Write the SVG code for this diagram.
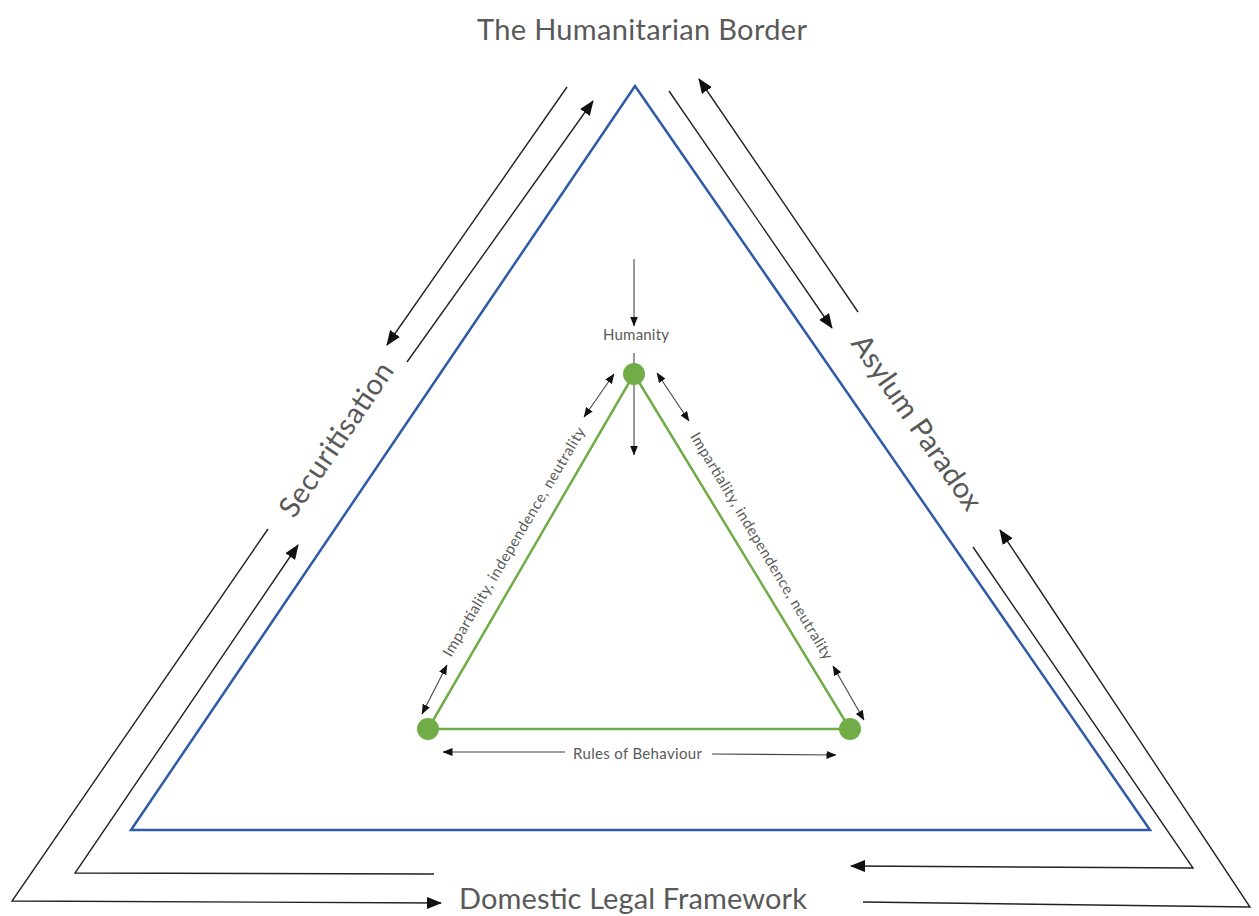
<svg xmlns="http://www.w3.org/2000/svg" width="1259" height="916" viewBox="0 0 1259 916">
<style>
  .lbl { font-family: Lato, "Open Sans", "Liberation Sans", sans-serif; fill: #595959; }
  .big { font-size: 29px; }
  .small { font-size: 15px; }
  .outer { fill: none; stroke: #2E5AA8; stroke-width: 2.5; stroke-linejoin: miter; }
  .inner { fill: none; stroke: #70AD47; stroke-width: 2.5; }
  .node { fill: #70AD47; }
  .arr { fill: none; stroke: #222; stroke-width: 1.4; marker-end: url(#ah); }
  .sarr { fill: none; stroke: #444; stroke-width: 1.1; marker-end: url(#ahs); }
  .darr { fill: none; stroke: #444; stroke-width: 1.1; marker-start: url(#ahs); marker-end: url(#ahs); }
  .ln { fill: none; stroke: #444; stroke-width: 1.1; }
</style>
<defs>
  <marker id="ah" markerUnits="userSpaceOnUse" markerWidth="15" markerHeight="12" refX="14" refY="6" orient="auto-start-reverse">
    <path d="M0,0 L15,6 L0,12 Z" fill="#111"/>
  </marker>
  <marker id="ahs" markerUnits="userSpaceOnUse" markerWidth="10" markerHeight="8" refX="9.5" refY="4" orient="auto-start-reverse">
    <path d="M0,0 L10,4 L0,8 Z" fill="#111"/>
  </marker>
</defs>
<rect width="1259" height="916" fill="#ffffff"/>

<g id="outer-triangle">
  <polygon class="outer" points="635,86 1150,830 131,830"/>
</g>

<g id="inner-triangle">
  <polygon class="inner" points="634,374 850,729 428,729"/>
</g>

<g id="connectors">
  <line class="arr" x1="567" y1="87" x2="387" y2="345"/>
  <line class="arr" x1="407" y1="362" x2="593" y2="101"/>
  <line class="arr" x1="669" y1="91" x2="832" y2="328"/>
  <line class="arr" x1="858" y1="312" x2="699" y2="79"/>
  <polyline class="arr" points="268,529 12,901 441,903"/>
  <polyline class="arr" points="434,874 75,873 298,545"/>
  <polyline class="arr" points="863,902 1250,907 1000,530"/>
  <polyline class="arr" points="973,547 1193,868 851,866"/>

  <line class="sarr" x1="634" y1="259" x2="634" y2="326"/>
  <line class="ln" x1="634" y1="353" x2="634" y2="370"/>
  <line class="sarr" x1="634" y1="374" x2="634" y2="455"/>
  <line class="darr" x1="584" y1="417" x2="614" y2="374"/>
  <line class="darr" x1="657" y1="373" x2="689" y2="421"/>
  <line class="darr" x1="422" y1="714" x2="447" y2="665"/>
  <line class="darr" x1="833" y1="666" x2="864" y2="720"/>
  <line class="sarr" x1="565" y1="752" x2="443" y2="752"/>
  <line class="sarr" x1="712" y1="754" x2="836" y2="755"/>
</g>

<g id="node-humanity">
  <circle class="node" cx="634" cy="374" r="11"/>
  <text class="lbl small" x="636" y="340" text-anchor="middle" textLength="66">Humanity</text>
</g>
<g id="node-left">
  <circle class="node" cx="428" cy="729" r="11"/>
</g>
<g id="node-right">
  <circle class="node" cx="850" cy="729" r="11"/>
</g>

<g id="label-title">
  <text class="lbl big" x="642" y="40" text-anchor="middle" textLength="330">The Humanitarian Border</text>
</g>
<g id="label-domestic">
  <text class="lbl big" x="633" y="909" text-anchor="middle" textLength="348">Domestic Legal Framework</text>
</g>
<g id="label-securitisation">
  <text class="lbl big" transform="translate(337,440) rotate(-55.9)" x="0" y="9" text-anchor="middle" textLength="180">Securitisation</text>
</g>
<g id="label-asylum">
  <text class="lbl big" transform="translate(916,423) rotate(55.3)" x="0" y="9" text-anchor="middle" textLength="206">Asylum Paradox</text>
</g>
<g id="label-left-principles">
  <text class="lbl small" transform="translate(514,542) rotate(-59.3)" x="0" y="5" text-anchor="middle" textLength="264">Impartiality, independence, neutrality</text>
</g>
<g id="label-right-principles">
  <text class="lbl small" transform="translate(761.5,546) rotate(59)" x="0" y="5" text-anchor="middle" textLength="262">Impartiality, independence, neutrality</text>
</g>
<g id="label-rules">
  <text class="lbl small" x="637.5" y="759" text-anchor="middle" textLength="129">Rules of Behaviour</text>
</g>
</svg>
